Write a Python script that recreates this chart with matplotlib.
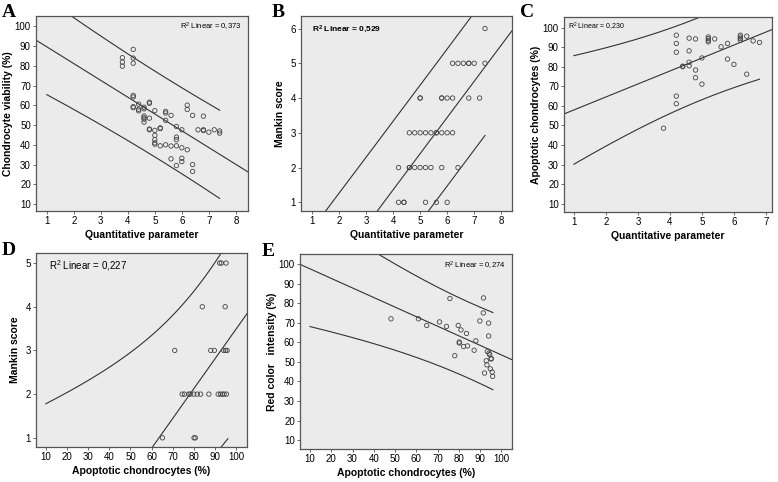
import numpy as np
import matplotlib
matplotlib.use("Agg")
import matplotlib.pyplot as plt

plt.rcParams["font.family"] = ["Liberation Sans", "DejaVu Sans"]
plt.rcParams["mathtext.default"] = "regular"

# ---- data ----
# A: quantitative parameter vs chondrocyte viability
a_x = [3.8, 3.8, 3.8,
       4.2, 4.2, 4.2, 4.2, 4.2, 4.2, 4.2,
       4.4, 4.4, 4.4,
       4.6, 4.6, 4.6, 4.6, 4.6, 4.6,
       4.8, 4.8, 4.8, 4.8, 4.8,
       5.0, 5.0, 5.0, 5.0, 5.0, 5.0,
       5.2, 5.2, 5.2,
       5.4, 5.4, 5.4, 5.4,
       5.6, 5.6, 5.6,
       5.8, 5.8, 5.8, 5.8, 5.8,
       6.0, 6.0, 6.0, 6.0,
       6.2, 6.2, 6.2,
       6.4, 6.4, 6.4,
       6.6, 6.8, 6.8, 6.8, 7.0, 7.2, 7.4, 7.4]
a_y = [84.1, 81.9, 79.8,
       88.3, 83.9, 81.3, 65.0, 64.2, 59.3, 58.8,
       60.6, 58.0, 57.2,
       59.0, 58.2, 54.6, 53.7, 53.0, 51.5,
       61.6, 61.0, 53.5, 48.0, 47.6,
       57.3, 47.3, 44.8, 42.6, 41.0, 40.3,
       48.6, 48.2, 39.5,
       56.9, 56.1, 52.4, 40.0,
       54.9, 39.4, 32.9,
       49.3, 43.9, 42.6, 39.5, 29.5,
       47.6, 38.5, 33.2, 31.5,
       60.1, 57.9, 37.5,
       54.9, 30.0, 26.5,
       47.6, 54.5, 47.6, 47.2, 46.4, 47.6, 47.0, 45.9]

# B: quantitative parameter vs Mankin score
b_x = [7.4,
       6.2, 6.4, 6.6, 6.8, 6.8, 7.0, 7.4,
       5.0, 5.0, 5.8, 5.8, 6.0, 6.2, 6.8, 7.2,
       4.6, 4.8, 5.0, 5.2, 5.4, 5.6, 5.6, 5.8, 6.0, 6.2,
       4.2, 4.6, 4.6, 4.8, 5.0, 5.2, 5.4, 5.8, 6.4,
       4.2, 4.4, 4.4, 5.2, 5.6, 6.0]
b_y = [6,
       5, 5, 5, 5, 5, 5, 5,
       4, 4, 4, 4, 4, 4, 4, 4,
       3, 3, 3, 3, 3, 3, 3, 3, 3, 3,
       2, 2, 2, 2, 2, 2, 2, 2, 2,
       1, 1, 1, 1, 1, 1]

# C: quantitative parameter vs apoptotic chondrocytes
c_x = [3.8, 4.2, 4.2, 4.2, 4.2, 4.2, 4.4, 4.4, 4.6, 4.6, 4.6, 4.6,
       4.8, 4.8, 4.8, 5.0, 5.0, 5.2, 5.2, 5.2, 5.2, 5.4, 5.6, 5.8, 5.8,
       6.0, 6.2, 6.2, 6.2, 6.2, 6.4, 6.4, 6.6, 6.8]
c_y = [48.6, 96.1, 91.9, 87.4, 65.0, 61.1, 80.3, 80.0, 94.6, 88.1, 82.3, 80.5,
       94.2, 78.3, 74.4, 84.5, 71.1, 95.2, 94.4, 93.5, 92.7, 94.2, 90.2, 91.9, 83.9,
       81.2, 96.1, 95.2, 94.4, 93.5, 95.6, 76.2, 93.2, 92.4]

# D: apoptotic chondrocytes vs Mankin score
d_x = [92.1, 92.9, 95.1,
       83.9, 94.7,
       70.9, 87.9, 89.6, 94.0, 94.9, 95.6,
       74.4, 75.5, 77.5, 78.2, 79.9, 81.5, 83.1, 87.0, 91.4, 92.5, 93.4, 94.2, 95.3,
       65.1, 80.0, 80.6]
d_y = [5, 5, 5,
       4, 4,
       3, 3, 3, 3, 3, 3,
       2, 2, 2, 2, 2, 2, 2, 2, 2, 2, 2, 2, 2,
       1, 1, 1]

# E: apoptotic chondrocytes vs red color intensity
e_x = [48.1, 61.0, 64.9, 70.9, 74.2, 75.8, 78.1, 79.7, 80.2, 80.2, 81.0, 82.2,
       83.6, 84.1, 87.2, 88.0, 89.9, 91.6, 91.5, 92.1, 92.9, 94.0, 94.0, 93.4,
       94.2, 94.5, 95.2, 95.2, 93.2, 94.8, 95.7, 95.9]
e_y = [72.1, 72.1, 68.7, 70.5, 68.2, 82.5, 53.2, 68.7, 60.2, 59.7, 66.4, 57.9,
       64.6, 58.2, 56.0, 60.8, 71.0, 82.8, 75.1, 44.3, 50.6, 69.9, 63.3, 55.4,
       54.5, 53.7, 51.8, 51.5, 48.5, 46.5, 44.8, 42.6]

# fit line (intercept, slope) and prediction band (h0, xbar, w, x range)
fits = {
    "A": (98.1, -8.5, 21.7, 5.3, 8.7, (1, 7.4)),
    "B": (-2.80, 1.04, 1.97, 5.5, 30.0, (1, 7.4)),
    "C": (51.3, 6.63, 21.3, 5.0, 4.8, (1, 6.8)),
    "D": (-3.34, 0.0684, 2.2, 87.0, 44.0, (10, 96)),
    "E": (102.6, -0.49, 19.5, 85.0, 65.8, (10, 96)),
}
r2 = {"A": "0,373", "B": "0,529", "C": "0,230", "D": "0,227", "E": "0,274"}

fig = plt.figure(figsize=(7.78, 4.82), dpi=100)
W, H = 778.0, 482.0


def make_ax(l, r, t, b):
    return fig.add_axes([l / W, 1 - b / H, (r - l) / W, (b - t) / H])


def style(ax):
    ax.set_facecolor("#ebebeb")
    for s in ax.spines.values():
        s.set_color("#555555")
        s.set_linewidth(0.9)
    ax.tick_params(length=2.5, width=0.6, color="#555555", labelsize=7, pad=1.2)


def draw_fit(ax, key):
    b0, b1, h0, xbar, w, (x0, x1) = fits[key]
    xl = ax.get_xlim()
    xs = np.linspace(xl[0], xl[1], 50)
    ax.plot(xs, b0 + b1 * xs, color="#333333", lw=0.8)
    xi = np.linspace(x0, x1, 200)
    h = h0 * np.sqrt(1 + ((xi - xbar) / w) ** 2)
    ax.plot(xi, b0 + b1 * xi + h, color="#333333", lw=0.8)
    ax.plot(xi, b0 + b1 * xi - h, color="#333333", lw=0.8)


def pts(ax, x, y):
    ax.scatter(x, y, s=10, facecolors="none", edgecolors="#444444", linewidths=0.6, zorder=3)


lab = dict(fontsize=7.5, fontweight="bold")
letter = dict(fontsize=14, fontweight="bold", family="Liberation Serif")

# A
ax = make_ax(36, 248, 16, 211)
style(ax)
ax.set_xlim(0.6, 8.45)
ax.set_ylim(6.5, 105.2)
ax.set_xticks(range(1, 9))
ax.set_yticks(range(10, 101, 10))
draw_fit(ax, "A")
pts(ax, a_x, a_y)
ax.set_xlabel("Quantitative parameter", labelpad=3, **lab)
ax.set_ylabel("Chondrocyte viability (%)", labelpad=1, **lab)
ax.text(0.97, 0.93, "R$^2$ Linear = " + r2["A"], transform=ax.transAxes, ha="right", fontsize=5.5)
fig.text(2 / W, 1 - 17 / H, "A", **letter)

# B
ax = make_ax(301, 512, 16, 211)
style(ax)
ax.set_xlim(0.59, 8.4)
ax.set_ylim(0.75, 6.36)
ax.set_xticks(range(1, 9))
ax.set_yticks(range(1, 7))
draw_fit(ax, "B")
pts(ax, b_x, b_y)
ax.set_xlabel("Quantitative parameter", labelpad=3, **lab)
ax.set_ylabel("Mankin score", labelpad=4, **lab)
ax.text(0.05, 0.92, "R$^2$ Linear = " + r2["B"], transform=ax.transAxes, ha="left",
        fontsize=6, fontweight="bold")
fig.text(272 / W, 1 - 17 / H, "B", **letter)

# C
ax = make_ax(564, 772, 17, 212)
style(ax)
ax.set_xlim(0.69, 7.19)
ax.set_ylim(5.8, 105.4)
ax.set_xticks(range(1, 8))
ax.set_yticks(range(10, 101, 10))
draw_fit(ax, "C")
pts(ax, c_x, c_y)
ax.set_xlabel("Quantitative parameter", labelpad=3, **lab)
ax.set_ylabel("Apoptotic chondrocytes (%)", labelpad=1, **lab)
ax.text(0.02, 0.935, "R$^2$ Linear = " + r2["C"], transform=ax.transAxes, ha="left", fontsize=5)
fig.text(520 / W, 1 - 17 / H, "C", **letter)

# D
ax = make_ax(36, 247, 253, 447)
style(ax)
ax.set_xlim(5.4, 105)
ax.set_ylim(0.79, 5.23)
ax.set_xticks(range(10, 101, 10))
ax.set_yticks(range(1, 6))
draw_fit(ax, "D")
pts(ax, d_x, d_y)
ax.set_xlabel("Apoptotic chondrocytes (%)", labelpad=3, **lab)
ax.set_ylabel("Mankin score", labelpad=4, **lab)
ax.text(0.06, 0.915, "R$^2$ Linear = " + r2["D"], transform=ax.transAxes, ha="left", fontsize=7)
fig.text(2 / W, 1 - 255 / H, "D", **letter)

# E
ax = make_ax(300, 512, 254, 449)
style(ax)
ax.set_xlim(5.3, 105)
ax.set_ylim(5.4, 105.3)
ax.set_xticks(range(10, 101, 10))
ax.set_yticks(range(10, 101, 10))
draw_fit(ax, "E")
pts(ax, e_x, e_y)
ax.set_xlabel("Apoptotic chondrocytes (%)", labelpad=3, **lab)
ax.set_ylabel("Red color   intensity (%)", labelpad=1, **lab)
ax.text(0.97, 0.925, "R$^2$ Linear = " + r2["E"], transform=ax.transAxes, ha="right", fontsize=5.5)
fig.text(262 / W, 1 - 256 / H, "E", **letter)

fig.savefig("out.png", dpi=100, facecolor="white")
